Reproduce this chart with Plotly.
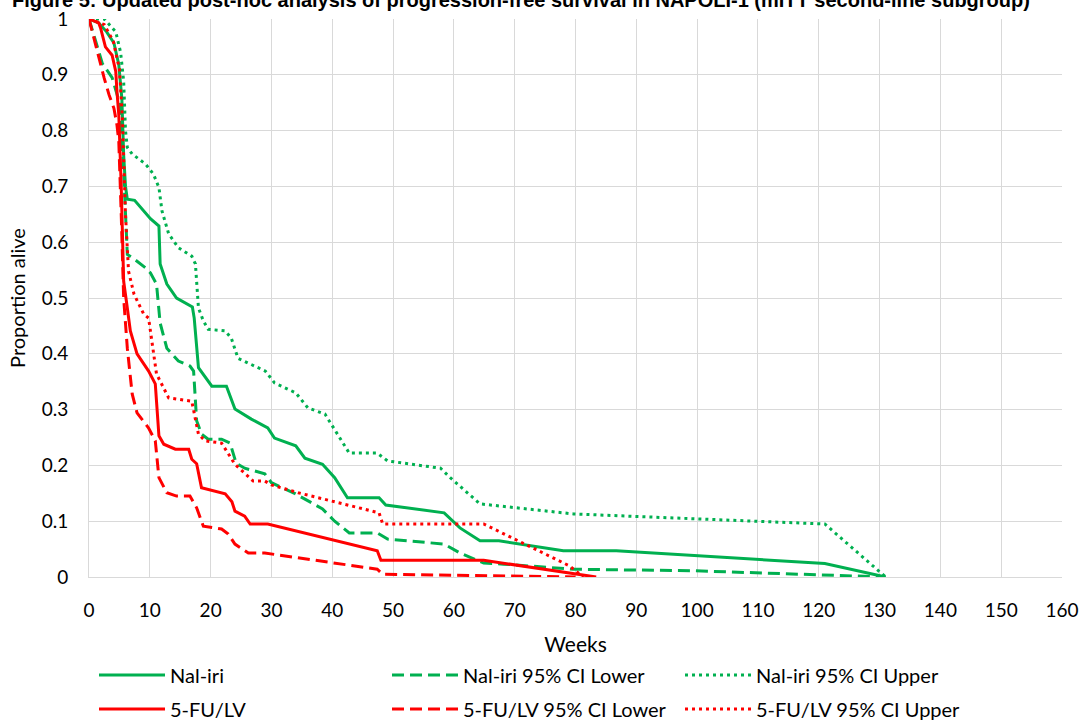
import plotly.graph_objects as go

# ---- data (weeks, proportion alive) ----
nal_x = [0, 1.6, 2.9, 4.1, 4.9, 5.4, 5.7, 6.0, 6.3, 7.5, 10.1, 11.5, 11.7, 12.8, 14.4, 17.0, 17.3, 18.0, 20.2, 22.6, 24.0, 26.7, 29.4, 30.5, 34.0, 35.5, 38.4, 40.4, 42.5, 47.7, 48.8, 58.4, 61.0, 64.3, 67.4, 78.0, 86.7, 121.0, 131.0]
nal_y = [1, 0.993, 0.977, 0.957, 0.918, 0.858, 0.756, 0.70, 0.677, 0.675, 0.642, 0.629, 0.561, 0.525, 0.50, 0.484, 0.464, 0.375, 0.342, 0.342, 0.301, 0.283, 0.267, 0.249, 0.235, 0.213, 0.202, 0.178, 0.142, 0.142, 0.129, 0.115, 0.088, 0.065, 0.065, 0.047, 0.047, 0.024, 0.0]

nal_lo_x = [0, 2.2, 3.8, 5.0, 5.6, 6.3, 7.4, 9.3, 10.1, 11.1, 11.7, 12.8, 14.7, 16.6, 17.2, 17.7, 18.5, 19.6, 21.8, 23.2, 24.2, 25.6, 28.9, 30.0, 33.8, 36.0, 38.4, 40.4, 42.8, 47.4, 49.1, 58.4, 61.0, 64.9, 68.2, 79.7, 99.8, 131.0]
nal_lo_y = [1, 0.92, 0.895, 0.85, 0.75, 0.578, 0.570, 0.554, 0.545, 0.525, 0.455, 0.41, 0.387, 0.378, 0.369, 0.28, 0.256, 0.247, 0.247, 0.24, 0.204, 0.195, 0.185, 0.169, 0.15, 0.136, 0.122, 0.10, 0.079, 0.079, 0.068, 0.059, 0.043, 0.025, 0.023, 0.014, 0.011, 0.0]

nal_hi_x = [0, 2.5, 4.4, 5.2, 5.7, 6.0, 6.3, 7.1, 9.3, 10.6, 11.5, 12.0, 13.1, 14.7, 16.9, 17.5, 18.0, 18.8, 19.6, 22.4, 23.4, 24.5, 29.0, 30.5, 34.0, 36.0, 38.8, 40.9, 42.8, 47.4, 49.1, 57.8, 59.4, 64.3, 69.9, 79.7, 121.0, 131.0]
nal_hi_y = [1, 1, 0.977, 0.94, 0.888, 0.80, 0.77, 0.758, 0.74, 0.722, 0.698, 0.656, 0.615, 0.59, 0.575, 0.561, 0.482, 0.459, 0.444, 0.441, 0.428, 0.392, 0.369, 0.348, 0.33, 0.303, 0.292, 0.256, 0.222, 0.222, 0.208, 0.195, 0.178, 0.131, 0.124, 0.113, 0.095, 0.0]

fu_x = [0, 1.6, 1.9, 2.2, 2.7, 3.8, 4.4, 4.6, 4.9, 5.3, 5.7, 6.3, 6.8, 7.9, 9.8, 10.9, 11.5, 12.3, 14.2, 16.4, 16.9, 17.7, 18.5, 22.4, 23.5, 24.0, 25.6, 26.5, 29.4, 47.4, 48.0, 64.9, 83.4]
fu_y = [1, 0.993, 0.984, 0.971, 0.95, 0.935, 0.906, 0.87, 0.828, 0.70, 0.53, 0.482, 0.441, 0.40, 0.369, 0.346, 0.253, 0.238, 0.229, 0.229, 0.211, 0.203, 0.16, 0.149, 0.135, 0.118, 0.109, 0.095, 0.095, 0.047, 0.03, 0.03, 0.0]

fu_lo_x = [0, 0.8, 1.3, 2.5, 3.3, 4.1, 4.6, 4.9, 5.3, 5.7, 6.3, 7.1, 7.9, 9.8, 10.9, 11.5, 12.8, 14.4, 16.6, 17.7, 18.8, 21.8, 22.9, 24.0, 26.2, 28.9, 47.4, 48.3, 80.0]
fu_lo_y = [1, 0.966, 0.94, 0.894, 0.864, 0.84, 0.81, 0.78, 0.65, 0.5, 0.41, 0.328, 0.294, 0.267, 0.244, 0.178, 0.151, 0.145, 0.145, 0.124, 0.091, 0.086, 0.077, 0.059, 0.043, 0.043, 0.014, 0.005, 0.0]

fu_hi_x = [0, 2.5, 4.0, 5.0, 5.5, 6.0, 6.5, 7.4, 9.0, 9.8, 11.1, 13.1, 16.9, 18.0, 19.1, 21.8, 24.0, 26.2, 27.0, 28.9, 30.0, 34.4, 39.5, 47.7, 48.3, 64.9, 79.0, 81.3]
fu_hi_y = [1, 0.99, 0.96, 0.91, 0.82, 0.65, 0.548, 0.507, 0.471, 0.464, 0.364, 0.321, 0.315, 0.256, 0.244, 0.24, 0.202, 0.18, 0.172, 0.172, 0.165, 0.151, 0.137, 0.115, 0.095, 0.095, 0.02, 0.0]

x_ticks = list(range(0, 161, 10))
y_ticks = [0, 0.1, 0.2, 0.3, 0.4, 0.5, 0.6, 0.7, 0.8, 0.9, 1]
y_tick_text = ["0", "0.1", "0.2", "0.3", "0.4", "0.5", "0.6", "0.7", "0.8", "0.9", "1"]

GREEN = "#00B050"
RED = "#FF0000"
DASH = "12px,6px"
DOT = "3px,4px"
FONT = "Lato, Carlito, Calibri, sans-serif"

series = [
    ("Nal-iri", nal_x, nal_y, GREEN, "solid", "legend"),
    ("Nal-iri 95% CI Lower", nal_lo_x, nal_lo_y, GREEN, DASH, "legend"),
    ("Nal-iri 95% CI Upper", nal_hi_x, nal_hi_y, GREEN, DOT, "legend"),
    ("5-FU/LV", fu_x, fu_y, RED, "solid", "legend2"),
    ("5-FU/LV 95% CI Lower", fu_lo_x, fu_lo_y, RED, DASH, "legend2"),
    ("5-FU/LV 95% CI Upper", fu_hi_x, fu_hi_y, RED, DOT, "legend2"),
]

fig = go.Figure()
for name, xs, ys, col, dash, lg in series:
    fig.add_trace(go.Scatter(x=xs, y=ys, mode="lines", name=name,
                             line=dict(color=col, width=3, dash=dash),
                             legend=lg))

legend_common = dict(orientation="h", xanchor="left", yanchor="middle",
                     font=dict(family=FONT, size=20, color="#000000"),
                     entrywidth=212, entrywidthmode="pixels", itemwidth=66,
                     bgcolor="rgba(0,0,0,0)", traceorder="normal")

L, R, T, B = 89, 19, 19, 144
PW, PH = 1081 - L - R, 721 - T - B

fig.update_layout(
    width=1081, height=721,
    margin=dict(l=L, r=R, t=T, b=B, autoexpand=False),
    paper_bgcolor="white", plot_bgcolor="white",
    font=dict(family=FONT, size=19, color="#000000"),
    showlegend=True,
    legend=dict(x=5 / PW, y=-98 / PH, **legend_common),
    legend2=dict(x=5 / PW, y=-132 / PH, **legend_common),
    xaxis=dict(range=[0, 160], tickvals=x_ticks, showgrid=True, automargin=False,
               gridcolor="#D9D9D9", gridwidth=1, zeroline=False,
               showline=True, linecolor="#D9D9D9", linewidth=1, mirror=False,
               ticks="", ticklabelstandoff=16, ticklabeloverflow="allow",
               tickfont=dict(family=FONT, size=19),
               title=dict(text="Weeks", font=dict(family=FONT, size=21), standoff=17)),
    yaxis=dict(range=[0, 1], tickvals=y_ticks, ticktext=y_tick_text, showgrid=True,
               automargin=False,
               gridcolor="#D9D9D9", gridwidth=1, zeroline=False,
               showline=True, linecolor="#D9D9D9", linewidth=1,
               ticks="", ticklabelstandoff=16, ticklabeloverflow="allow",
               tickfont=dict(family=FONT, size=19),
               title=dict(text="Proportion alive", font=dict(family=FONT, size=20), standoff=10)),
)

fig.add_annotation(
    text="<b>Figure 5: Updated post-hoc analysis of progression-free survival in NAPOLI-1 (mITT second-line subgroup)</b>",
    xref="paper", yref="paper", x=(1032 - L) / PW, y=1 + T / PH,
    xanchor="right", yanchor="middle", showarrow=False,
    font=dict(family="Liberation Sans, Arial, sans-serif", size=20, color="#000000"))

fig.write_html("out.html", config={"displayModeBar": False},
               post_script="document.body.style.margin='0';document.body.style.overflow='hidden';")
